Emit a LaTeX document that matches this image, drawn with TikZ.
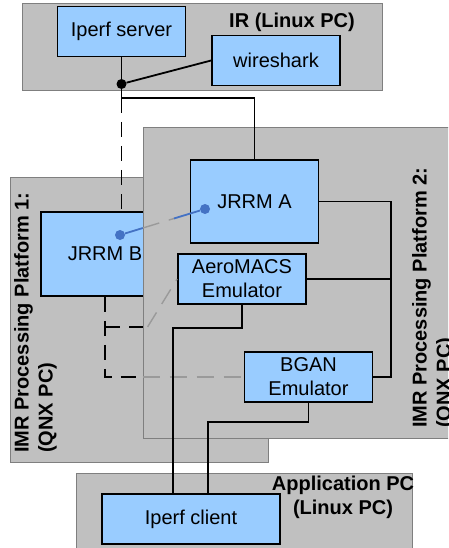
\documentclass[tikz,border=0pt]{standalone}
\usepackage{fontspec}
\setmainfont{Liberation Sans}
\usetikzlibrary{positioning,calc}
\definecolor{PanelGrey}{HTML}{C0C0C0}
\definecolor{PanelEdge}{HTML}{7F7F7F}
\definecolor{BlockBlue}{HTML}{99CCFF}
\definecolor{LinkBlue}{HTML}{4472C4}
\definecolor{FadedGrey}{HTML}{9A9A9A}
\newcommand{\diagsize}{\fontsize{20}{24}\selectfont}

\begin{document}
\begin{tikzpicture}[x=1pt, y=-1pt,
    panel/.style={draw=PanelEdge, fill=PanelGrey, line width=0.8pt, inner sep=0pt},
    block/.style={draw=black, fill=BlockBlue, line width=1.8pt, inner sep=0pt,
      align=center, minimum width=128pt, minimum height=50pt, font=\diagsize},
    panellabel/.style={font=\diagsize\bfseries, align=left, inner sep=0pt},
    wire/.style={line width=1.8pt},
    hiddenwire/.style={line width=1.8pt, dash pattern=on 15pt off 9pt},
    fadedwire/.style={line width=1.4pt, FadedGrey, dash pattern=on 17pt off 10pt},
    junction/.style={circle, fill=black, inner sep=0pt, minimum size=10pt},
    probe/.style={circle, fill=LinkBlue, inner sep=0pt, minimum size=10pt}]
        \useasboundingbox (0,0) rectangle (448,548);
        \clip (0,0) rectangle (448,548);
        % IR host
        \node[panel, minimum width=360pt, minimum height=87.5pt] (ir) at (202,46.75) {};
        \node[panellabel] (irlabel) at (292,22) {IR (Linux PC)};
        \node[block] (srv) at (121.5,31.5) {Iperf server};
        \node[block] (shark) at (276,60.5) {wireshark};
        % Processing platform 1, partly behind platform 2
        \node[panel, minimum width=258pt, minimum height=285pt] (p1) at (139,319.5) {};
        \node[panellabel, rotate=90, anchor=north west] (p1label) at (14,453)
          {IMR Processing Platform 1:\\(QNX PC)};
        \node[block, minimum height=84pt] (jrrmB) at (105,254) {JRRM B};
        % Processing platform 2
        \node[panel, minimum width=317pt, minimum height=311pt] (p2) at (301.5,282.5) {};
        \node[panellabel, rotate=90, anchor=north west] (p2label) at (412,428)
          {IMR Processing Platform 2:\\(QNX PC)};
        \node[block, minimum height=83pt] (jrrmA) at (254.5,201.5) {JRRM A};
        \node[block] (aero) at (242,279) {AeroMACS\\Emulator};
        \node[block] (bgan) at (308.5,377) {BGAN\\Emulator};
        % Application host
        \node[panel, minimum width=336pt, minimum height=87pt] (app) at (244,516.5) {};
        \node[panellabel, align=center, anchor=north] (applabel) at (343,476)
          {Application PC\\(Linux PC)};
        \node[block, minimum width=178pt] (client) at (191,519) {Iperf client};
        % Tap point and radio link end points
        \node[junction] (tap) at (121.5,84) {};
        \node[probe] (dotB) at (120,235) {};
        \node[probe] (dotA) at (205,209) {};
        \coordinate (split) at (121.5,98);
        \coordinate (bus) at (391,201.5);
        \coordinate (tee) at ($(jrrmB.south)+(0,30)$);
        \coordinate (clientL) at ($(client.north)+(-18,0)$);
        \coordinate (clientR) at ($(client.north)+(17,0)$);
        % Links hidden behind platform 2
        \draw[hiddenwire] (jrrmB.south) |- (bgan.west -| p2.west);
        \draw[hiddenwire] (tee) -- (tee -| p2.west);
        \draw[fadedwire] (bgan.west -| p2.west) -- (bgan.west);
        \draw[fadedwire] ($(tee -| p2.west)+(5,0)$) -- (aero.west);
        \draw[line width=1.8pt, LinkBlue] (dotB) -- ($(dotB)!0.27!(dotA)$);
        \draw[fadedwire] ($(dotB)!0.27!(dotA)$) -- ($(dotB)!0.635!(dotA)$);
        \draw[line width=1.8pt, LinkBlue] ($(dotB)!0.635!(dotA)$) -- (dotA);
        % Wired links
        \draw[wire] (srv.south) -- (tap);
        \draw[wire] (tap) -- (shark.west);
        \draw[wire] (tap) -- (split) -| (jrrmA.north);
        \draw[hiddenwire] (split) -- (split |- jrrmB.north);
        \draw[wire] (jrrmA.east) -- (bus) |- (bgan.east);
        \draw[wire] (aero.east) -- (aero.east -| bus);
        \draw[wire] (aero.south) -- ++(0,23) -| (clientL);
        \draw[wire] (bgan.south) -- ++(0,19) -| (clientR);
\end{tikzpicture}
\end{document}
